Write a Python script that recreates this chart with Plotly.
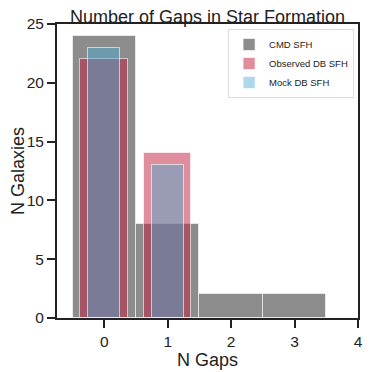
import plotly.graph_objects as go

# Datos
n_gaps = [0, 1, 2, 3]
cmd_counts = [24, 8, 2, 2]
obs_gaps = [0, 1]
obs_counts = [22, 14]
mock_gaps = [0, 1]
mock_counts = [23, 13]

fig = go.Figure()

edge = dict(color='rgba(255,255,255,0.6)', width=1)

# CMD SFH - gris
fig.add_trace(go.Bar(
    x=n_gaps, y=cmd_counts, width=1.0,
    name='CMD SFH',
    marker=dict(color='rgba(0,0,0,0.45)', line=edge)
))

# Observed DB SFH - rojo
fig.add_trace(go.Bar(
    x=obs_gaps, y=obs_counts, width=0.75,
    name='Observed DB SFH',
    marker=dict(color='rgba(190,30,60,0.5)', line=edge)
))

# Mock DB SFH - azul
fig.add_trace(go.Bar(
    x=mock_gaps, y=mock_counts, width=0.5,
    name='Mock DB SFH',
    marker=dict(color='rgba(70,170,210,0.45)', line=edge)
))

axis_common = dict(
    showgrid=False, zeroline=False, automargin=False,
    showline=True, linewidth=2, linecolor='#222', mirror=True,
    ticks='outside', ticklen=8, tickwidth=2, tickcolor='#222',
    tickfont=dict(size=15.5, color='#222'),
)

# La página tiene 8px de margen en body: se compensa en tamaño y márgenes
fig.update_layout(
    width=366, height=364,
    margin=dict(l=49, r=16, t=16, b=54),
    barmode='overlay',
    bargap=0,
    plot_bgcolor='white',
    paper_bgcolor='white',
    font=dict(family='Liberation Sans, Arial', size=15, color='#222'),
    title=dict(text='Number of Gaps in Star Formation', xref='paper', x=0.5,
               xanchor='center', y=0.994, yanchor='top', pad=dict(t=0, b=0),
               automargin=False, font=dict(size=18, color='#222')),
    xaxis=dict(range=[-0.745, 4], tickvals=[0, 1, 2, 3, 4],
               title=dict(text='N Gaps', font=dict(size=18), standoff=2), **axis_common),
    yaxis=dict(range=[0, 25], tickvals=[0, 5, 10, 15, 20, 25],
               title=dict(text='N Galaxies', font=dict(size=18), standoff=5), **axis_common),
    legend=dict(x=0.987, y=0.983, xanchor='right', yanchor='top',
                bgcolor='rgba(255,255,255,0.8)', bordercolor='#ddd', borderwidth=1,
                font=dict(size=9.5, color='#222'), tracegroupgap=0,
                itemwidth=30),
    showlegend=True,
)

fig.write_html("out.html", config={'displayModeBar': False})
